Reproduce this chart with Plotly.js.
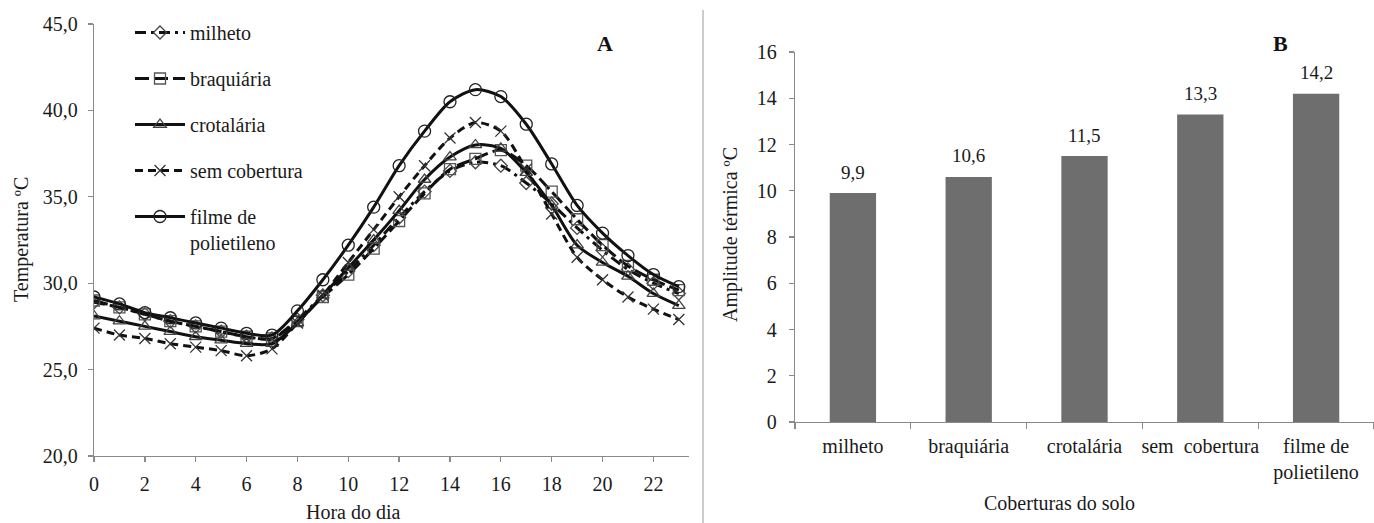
<!DOCTYPE html>
<html>
<head>
<meta charset="utf-8">
<script src="https://cdn.plot.ly/plotly-3.0.1.min.js"></script>
<style>html,body{margin:0;padding:0;background:#fff;}#chart{width:1374px;height:523px;}</style>
</head>
<body>
<div id="chart"></div>
<script>
// ---- Panel A data: soil temperature by hour of day ----
var hours = [0,1,2,3,4,5,6,7,8,9,10,11,12,13,14,15,16,17,18,19,20,21,22,23];
var milheto      = [28.9,28.6,28.2,27.8,27.5,27.2,26.9,26.8,27.9,29.3,30.7,32.2,33.8,35.3,36.5,37.0,36.8,35.8,34.6,33.2,31.9,30.8,30.0,29.4];
var braquiaria   = [29.0,28.6,28.2,27.8,27.5,27.2,26.9,26.8,27.8,29.2,30.5,32.0,33.6,35.2,36.6,37.2,37.7,36.8,35.3,33.7,32.2,31.0,30.2,29.6];
var crotalaria   = [28.1,27.8,27.5,27.2,26.9,26.7,26.5,26.5,27.7,29.3,30.9,32.5,34.2,36.0,37.3,38.0,37.8,36.4,34.5,32.2,31.2,30.4,29.4,28.7];
var semCobertura = [27.4,27.0,26.8,26.5,26.3,26.1,25.8,26.2,27.7,29.3,31.2,33.1,35.0,36.8,38.4,39.3,38.8,36.6,34.0,31.5,30.2,29.2,28.5,27.9];
var filme        = [29.2,28.8,28.3,28.0,27.7,27.4,27.1,27.0,28.4,30.2,32.2,34.4,36.8,38.8,40.5,41.2,40.8,39.2,36.9,34.5,32.9,31.6,30.5,29.8];
var seriesNames  = ['milheto','braquiária','crotalária','sem cobertura','filme de<br>polietileno'];
var hourTicks    = [0,2,4,6,8,10,12,14,16,18,20,22];
var tempTicks    = [20,25,30,35,40,45];

// ---- Panel B data: thermal amplitude by soil cover ----
var coberturas = ['milheto','braquiária','crotalária','sem  cobertura','filme de<br>polietileno'];
var amplitude  = [9.9,10.6,11.5,13.3,14.2];
var ampTicks   = [0,2,4,6,8,10,12,14,16];

var W = 1374, H = 523;
var SERIF = '"Liberation Serif", "Times New Roman", Times, serif';
function px(x){return x/W;}
function py(y){return 1 - y/H;}

function lineTrace(y, name, dash, symbol, size, mcolor, group){
  return {
    type:'scatter', mode:'lines+markers', x:hours, y:y, name:name,
    xaxis:'x', yaxis:'y', legendgroup:group,
    line:{color:'#111', width:3, dash:dash, shape:'spline', smoothing:0.8},
    marker:{symbol:symbol, size:size, color:mcolor, line:{color:mcolor, width:1.3}}
  };
}

var traces = [
  lineTrace(milheto, seriesNames[0], '11px,5px,3px,5px', 'diamond-open', 10, '#444', 'g1'),
  lineTrace(braquiaria, seriesNames[1], '14px,5px', 'square-open', 11, '#555', 'g2'),
  lineTrace(crotalaria, seriesNames[2], 'solid', 'triangle-up-open', 11, '#444', 'g3'),
  lineTrace(semCobertura, seriesNames[3], '8px,5px', 'x-thin-open', 11, '#333', 'g4'),
  lineTrace(filme, seriesNames[4], 'solid', 'circle-open', 12, '#222', 'g5'),
  {
    type:'bar', x:coberturas, y:amplitude, xaxis:'x2', yaxis:'y2', showlegend:false,
    marker:{color:'#6e6e6e'}
  }
];

var axisCommon = {showgrid:false, zeroline:false, showline:true, linecolor:'#8a8a8a', linewidth:1.3,
  ticks:'outside', ticklen:5, tickcolor:'#8a8a8a', tickwidth:1.3,
  tickfont:{family:SERIF, size:20, color:'#1a1a1a'}};

var annotations = [
  {text:'<b>A</b>', x:px(605), y:py(43), xref:'paper', yref:'paper', xanchor:'center', yanchor:'middle', showarrow:false, font:{family:SERIF, size:22, color:'#111'}},
  {text:'<b>B</b>', x:px(1280), y:py(43), xref:'paper', yref:'paper', xanchor:'center', yanchor:'middle', showarrow:false, font:{family:SERIF, size:22, color:'#111'}},
  {text:'Temperatura ºC', x:px(22), y:py(240), xref:'paper', yref:'paper', xanchor:'center', yanchor:'middle', showarrow:false, textangle:-90, font:{family:SERIF, size:20}},
  {text:'Hora do dia', x:px(353), y:py(512), xref:'paper', yref:'paper', xanchor:'center', yanchor:'middle', showarrow:false, font:{family:SERIF, size:20}},
  {text:'Amplitude térmica ºC', x:px(730), y:py(235), xref:'paper', yref:'paper', xanchor:'center', yanchor:'middle', showarrow:false, textangle:-90, font:{family:SERIF, size:20}},
  {text:'Coberturas do solo', x:px(1059), y:py(503), xref:'paper', yref:'paper', xanchor:'center', yanchor:'middle', showarrow:false, font:{family:SERIF, size:20}}
];
// value labels above bars, positioned by the bar axes
coberturas.forEach(function(c, i){
  annotations.push({text:amplitude[i].toFixed(1).replace('.', ','), x:c, y:amplitude[i], xref:'x2', yref:'y2',
    xanchor:'center', yanchor:'middle', yshift:21, showarrow:false, font:{family:SERIF, size:19, color:'#1a1a1a'}});
});

var layout = {
  width:W, height:H, margin:{l:0,r:0,t:0,b:0},
  paper_bgcolor:'#fff', plot_bgcolor:'#fff',
  font:{family:SERIF, size:20, color:'#1a1a1a'},
  separators:', ',
  bargap:0.6,
  xaxis:Object.assign({}, axisCommon, {domain:[px(94), px(689)], range:[0,23.4], tickvals:hourTicks, anchor:'y', ticklabelstandoff:5}),
  yaxis:Object.assign({}, axisCommon, {domain:[py(456), py(24)], range:[20,45], tickvals:tempTicks, tickformat:'.1f', anchor:'x', ticklabelstandoff:6}),
  xaxis2:Object.assign({}, axisCommon, {domain:[px(795), 1], type:'category', anchor:'y2', tickson:'boundaries', ticklen:6, tickangle:0, ticklabelstandoff:6}),
  yaxis2:Object.assign({}, axisCommon, {domain:[py(422), py(52)], range:[0,16], tickvals:ampTicks, anchor:'x2', ticklabelstandoff:8}),
  showlegend:true,
  legend:{x:px(130), y:py(13), xanchor:'left', yanchor:'top', bgcolor:'rgba(0,0,0,0)',
    font:{family:SERIF, size:20, color:'#1a1a1a'}, tracegroupgap:17, itemwidth:50, valign:'top', traceorder:'grouped'},
  annotations:annotations,
  shapes:[
    {type:'line', xref:'paper', yref:'paper', x0:px(703), x1:px(703), y0:0, y1:py(10), line:{color:'#9a9a9a', width:1}}
  ]
};

Plotly.newPlot('chart', traces, layout, {staticPlot:true, displayModeBar:false});
</script>
</body>
</html>
